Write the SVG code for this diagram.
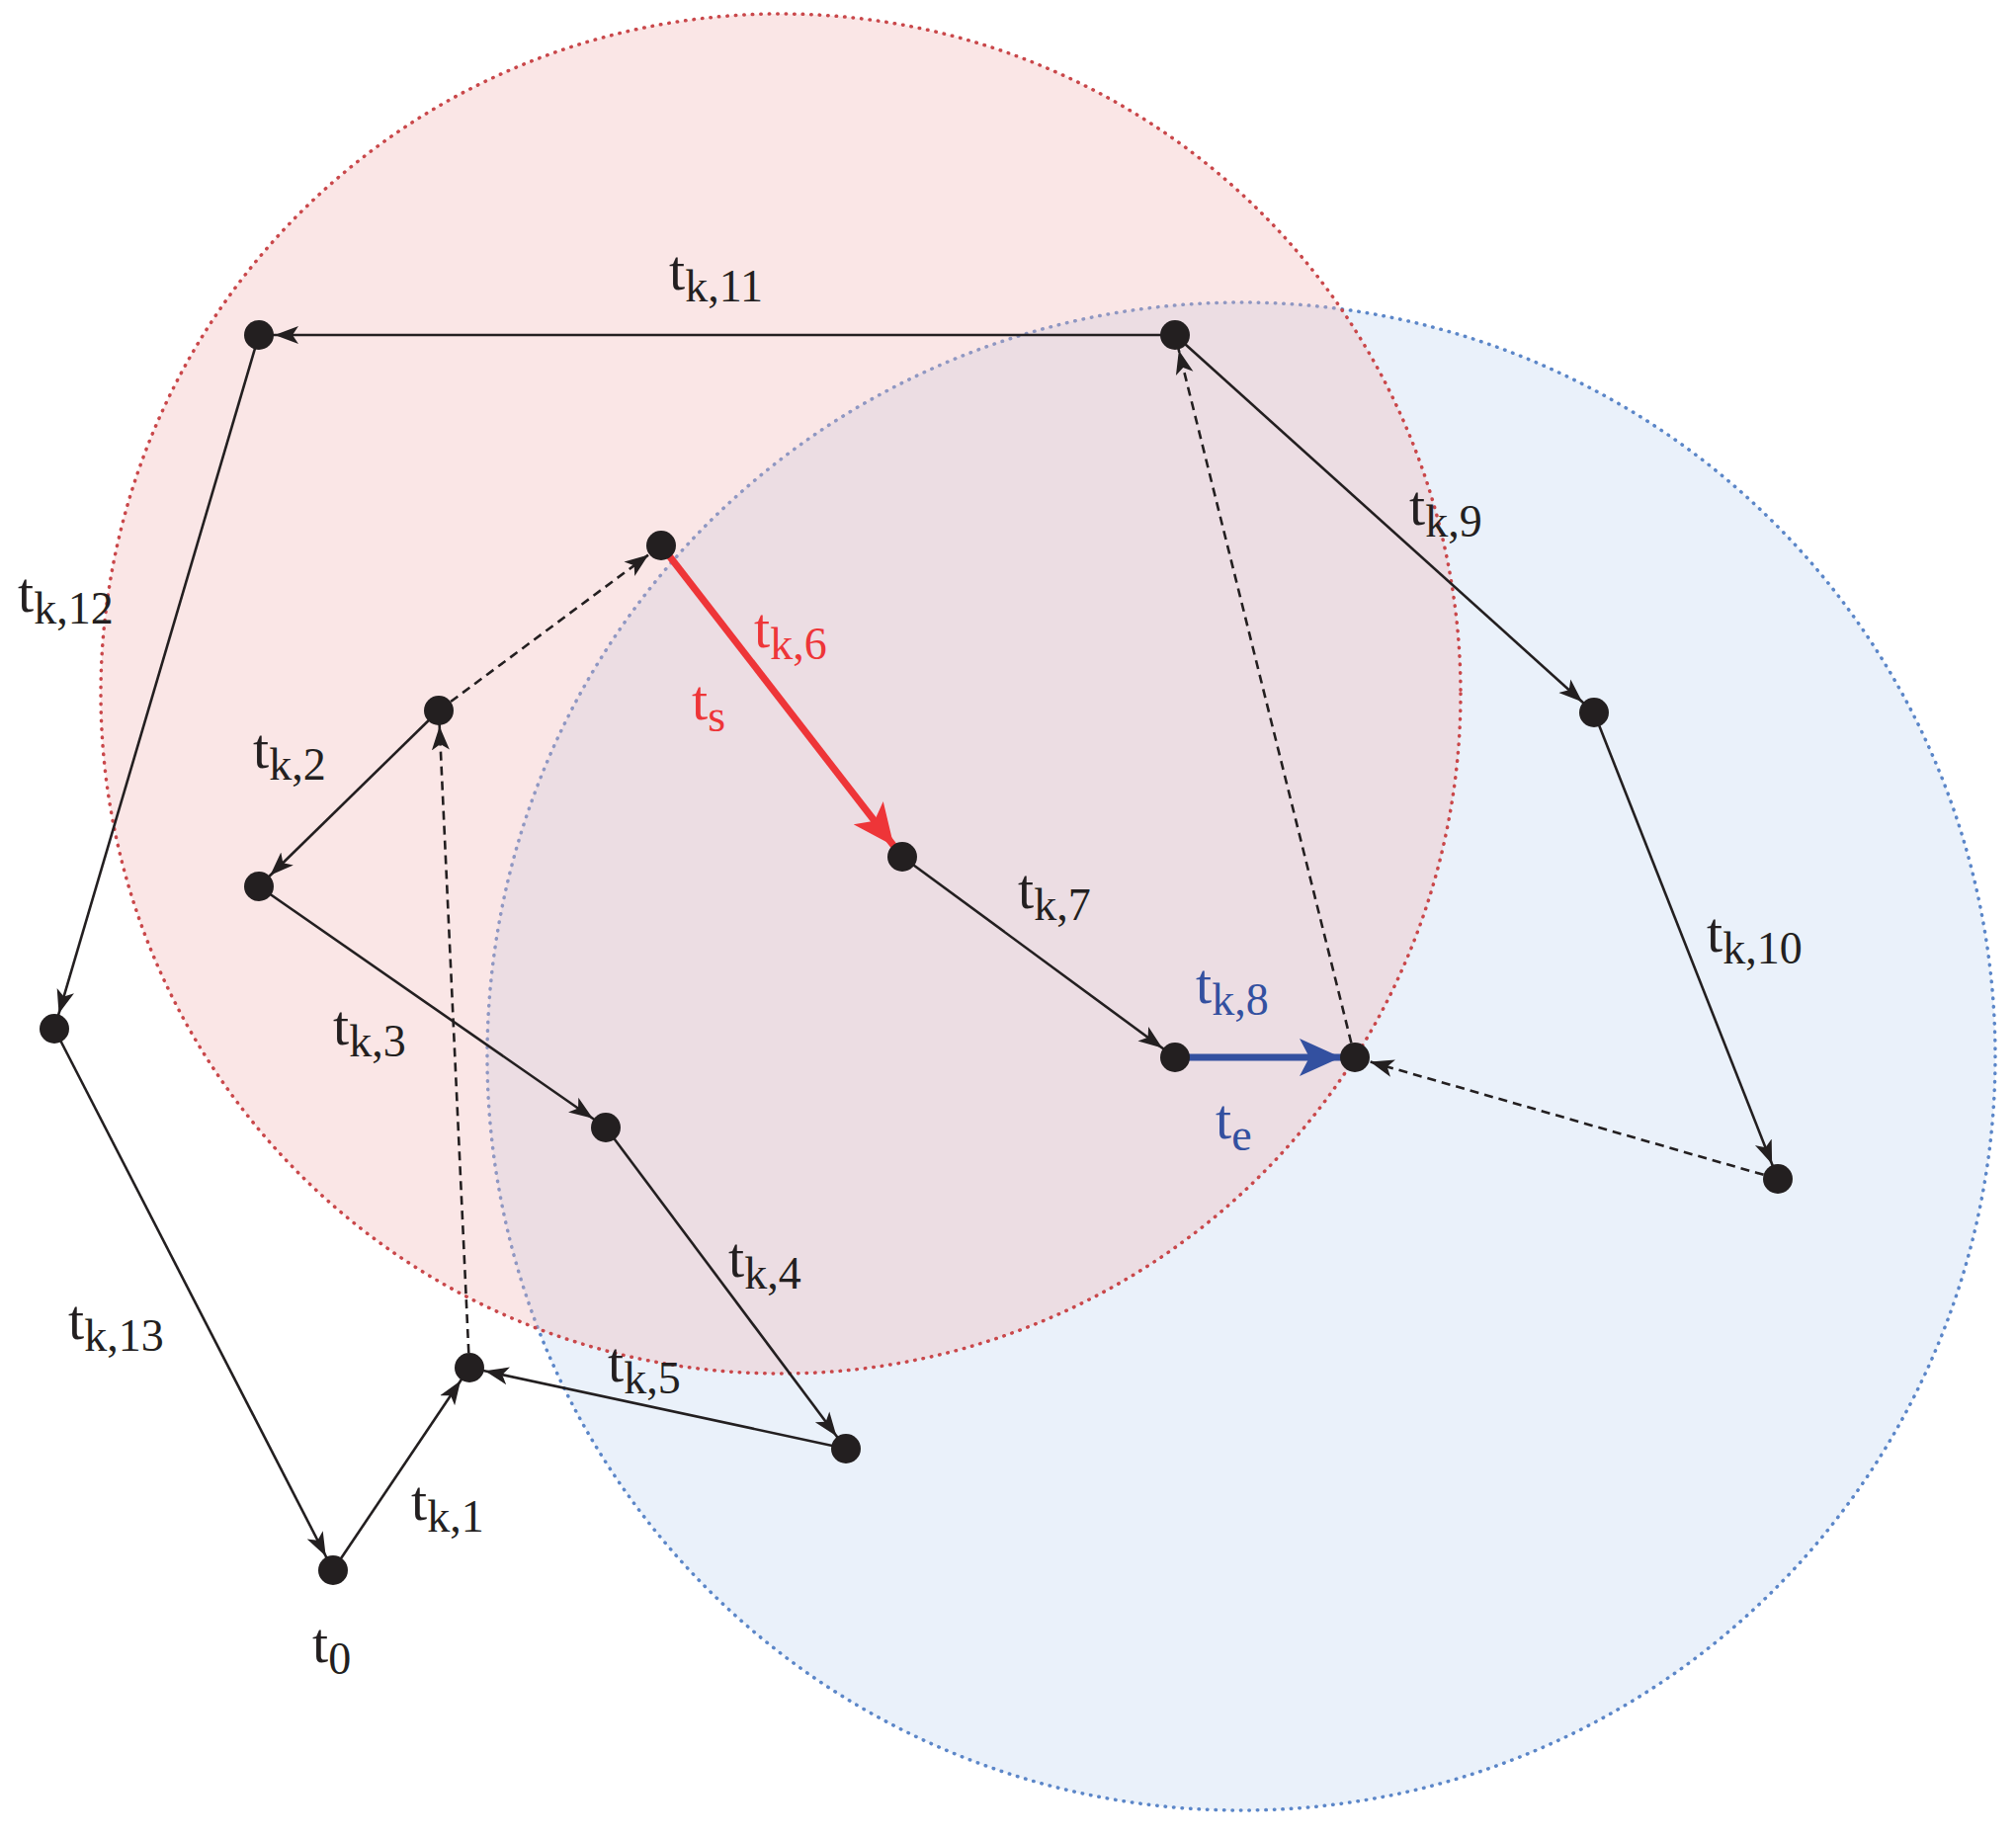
<svg xmlns="http://www.w3.org/2000/svg" width="2040" height="1861" viewBox="0 0 2040 1861">
<style>
.e{stroke:#231f20;stroke-width:2.6;fill:none;marker-end:url(#ah)}
.d{stroke:#231f20;stroke-width:2.6;fill:none;stroke-dasharray:9,6;marker-end:url(#ah)}
.n{fill:#231f20}
text{font-family:"Liberation Serif","DejaVu Serif",serif;font-size:58px;fill:#231f20}
.s{font-size:46px}
</style>
<defs>
<marker id="ah" markerUnits="userSpaceOnUse" markerWidth="60" markerHeight="30" viewBox="0 -15 60 30" refX="40" refY="0" orient="auto"><path d="M0,-9 L24,0 L0,9 L6,0 z" fill="#231f20"/></marker>
<marker id="ar" markerUnits="userSpaceOnUse" markerWidth="90" markerHeight="50" viewBox="0 -25 90 50" refX="56" refY="0" orient="auto"><path d="M0,-19 L42,0 L0,19 L10,0 z" fill="#ee3538"/></marker>
<marker id="ab" markerUnits="userSpaceOnUse" markerWidth="90" markerHeight="50" viewBox="0 -25 90 50" refX="56" refY="0" orient="auto"><path d="M0,-19 L42,0 L0,19 L10,0 z" fill="#3350a0"/></marker>
</defs>
<g transform="translate(-6,-5)">
<g id="circles">
<circle cx="1262" cy="1074" r="763" fill="#dfe9f7" fill-opacity="0.65" stroke="#5b86c8" stroke-width="3.5" stroke-dasharray="0.5,8" stroke-linecap="round"/>
<circle cx="796" cy="707" r="688" fill="#f2b8b8" fill-opacity="0.35" stroke="#c9474a" stroke-width="3.5" stroke-dasharray="0.5,8" stroke-linecap="round"/>
</g>
<g id="connectors">
<line class="e" x1="343" y1="1594" x2="481" y2="1389"/>
<line class="e" x1="450" y1="724" x2="268" y2="902"/>
<line class="e" x1="268" y1="902" x2="619" y2="1146"/>
<line class="e" x1="619" y1="1146" x2="862" y2="1471"/>
<line class="e" x1="862" y1="1471" x2="481" y2="1389"/>
<line class="d" x1="481" y1="1389" x2="450" y2="724"/>
<line class="d" x1="450" y1="724" x2="675" y2="557"/>
<line stroke="#ee3538" stroke-width="7" x1="675" y1="557" x2="919" y2="872" marker-end="url(#ar)"/>
<line class="e" x1="919" y1="872" x2="1195" y2="1075"/>
<line stroke="#3350a0" stroke-width="7" x1="1195" y1="1075" x2="1377" y2="1075" marker-end="url(#ab)"/>
<line class="d" x1="1377" y1="1075" x2="1195" y2="344"/>
<line class="e" x1="1195" y1="344" x2="1619" y2="726"/>
<line class="e" x1="1619" y1="726" x2="1805" y2="1198"/>
<line class="d" x1="1805" y1="1198" x2="1377" y2="1075"/>
<line class="e" x1="1195" y1="344" x2="268" y2="344"/>
<line class="e" x1="268" y1="344" x2="61" y2="1046"/>
<line class="e" x1="61" y1="1046" x2="343" y2="1594"/>
</g>
<g id="nodes">
<circle id="nA" class="n" cx="268" cy="344" r="15"/>
<circle id="nB" class="n" cx="1195" cy="344" r="15"/>
<circle id="nC" class="n" cx="675" cy="557" r="15"/>
<circle id="nD" class="n" cx="450" cy="724" r="15"/>
<circle id="nE" class="n" cx="268" cy="902" r="15"/>
<circle id="nF" class="n" cx="61" cy="1046" r="15"/>
<circle id="nG" class="n" cx="919" cy="872" r="15"/>
<circle id="nH" class="n" cx="1195" cy="1075" r="15"/>
<circle id="nI" class="n" cx="1377" cy="1075" r="15"/>
<circle id="nJ" class="n" cx="1619" cy="726" r="15"/>
<circle id="nK" class="n" cx="1805" cy="1198" r="15"/>
<circle id="nL" class="n" cx="619" cy="1146" r="15"/>
<circle id="nM" class="n" cx="862" cy="1471" r="15"/>
<circle id="nN" class="n" cx="481" cy="1389" r="15"/>
<circle id="nO" class="n" cx="343" cy="1594" r="15"/>
</g>
<g id="labels">
<text x="683" y="298">t<tspan class="s" dy="12">k,11</tspan></text>
<text x="24" y="624">t<tspan class="s" dy="12">k,12</tspan></text>
<text x="1432" y="536">t<tspan class="s" dy="12">k,9</tspan></text>
<text x="769" y="660" style="fill:#ee3538">t<tspan class="s" dy="12" style="fill:#ee3538">k,6</tspan></text>
<text x="706" y="733" style="fill:#ee3538">t<tspan class="s" dy="12" style="fill:#ee3538">s</tspan></text>
<text x="262" y="782">t<tspan class="s" dy="12">k,2</tspan></text>
<text x="1036" y="924">t<tspan class="s" dy="12">k,7</tspan></text>
<text x="1733" y="968">t<tspan class="s" dy="12">k,10</tspan></text>
<text x="1216" y="1020" style="fill:#3350a0">t<tspan class="s" dy="12" style="fill:#3350a0">k,8</tspan></text>
<text x="1236" y="1157" style="fill:#3350a0">t<tspan class="s" dy="12" style="fill:#3350a0">e</tspan></text>
<text x="343" y="1062">t<tspan class="s" dy="12">k,3</tspan></text>
<text x="743" y="1297">t<tspan class="s" dy="12">k,4</tspan></text>
<text x="75" y="1360">t<tspan class="s" dy="12">k,13</tspan></text>
<text x="621" y="1403">t<tspan class="s" dy="12">k,5</tspan></text>
<text x="422" y="1543">t<tspan class="s" dy="12">k,1</tspan></text>
<text x="322" y="1687">t<tspan class="s" dy="12">0</tspan></text>
</g>
</g>
</svg>
